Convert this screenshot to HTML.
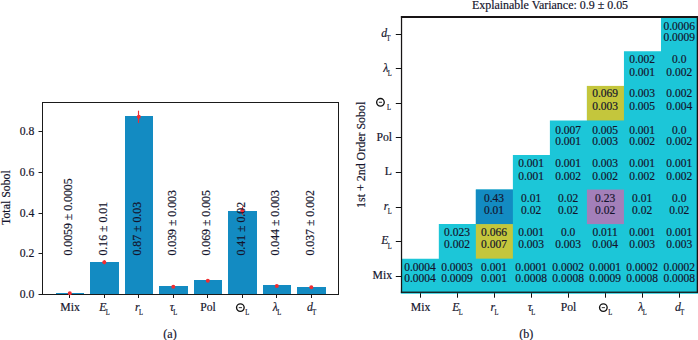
<!DOCTYPE html>
<html><head><meta charset="utf-8"><title>Sobol indices</title>
<style>html,body{margin:0;padding:0;background:#fff;}body{width:698px;height:340px;overflow:hidden;}svg{display:block;}text{font-family:"Liberation Serif",serif;fill:#14142c;stroke:#14142c;stroke-width:0.18px;}</style>
</head><body>
<svg width="698" height="340" viewBox="0 0 698 340">
<rect x="0" y="0" width="698" height="340" fill="#ffffff"/>
<g id="bars">
<rect x="56" y="293" width="28" height="1.5" fill="#138bc2"/>
<rect x="90" y="262" width="29" height="32.5" fill="#138bc2"/>
<rect x="125" y="116" width="28" height="178.5" fill="#138bc2"/>
<rect x="159" y="286" width="29" height="8.5" fill="#138bc2"/>
<rect x="194" y="280" width="28" height="14.5" fill="#138bc2"/>
<rect x="228" y="211" width="29" height="83.5" fill="#138bc2"/>
<rect x="263" y="285" width="28" height="9.5" fill="#138bc2"/>
<rect x="297" y="287" width="29" height="7.5" fill="#138bc2"/>
</g>
<rect x="42.50" y="102.50" width="296.00" height="192.00" fill="none" stroke="#1a1a1a" stroke-width="1"/>
<line x1="38.50" y1="294.50" x2="42.50" y2="294.50" stroke="#1a1a1a" stroke-width="1"/>
<text x="34.3" y="298.20" font-size="11.70" text-anchor="end">0.0</text>
<line x1="38.50" y1="253.50" x2="42.50" y2="253.50" stroke="#1a1a1a" stroke-width="1"/>
<text x="34.3" y="257.20" font-size="11.70" text-anchor="end">0.2</text>
<line x1="38.50" y1="213.50" x2="42.50" y2="213.50" stroke="#1a1a1a" stroke-width="1"/>
<text x="34.3" y="217.20" font-size="11.70" text-anchor="end">0.4</text>
<line x1="38.50" y1="172.50" x2="42.50" y2="172.50" stroke="#1a1a1a" stroke-width="1"/>
<text x="34.3" y="176.20" font-size="11.70" text-anchor="end">0.6</text>
<line x1="38.50" y1="131.50" x2="42.50" y2="131.50" stroke="#1a1a1a" stroke-width="1"/>
<text x="34.3" y="135.20" font-size="11.70" text-anchor="end">0.8</text>
<line x1="69.50" y1="294.50" x2="69.50" y2="298.00" stroke="#1a1a1a" stroke-width="1"/>
<line x1="104.50" y1="294.50" x2="104.50" y2="298.00" stroke="#1a1a1a" stroke-width="1"/>
<line x1="138.50" y1="294.50" x2="138.50" y2="298.00" stroke="#1a1a1a" stroke-width="1"/>
<line x1="173.50" y1="294.50" x2="173.50" y2="298.00" stroke="#1a1a1a" stroke-width="1"/>
<line x1="207.50" y1="294.50" x2="207.50" y2="298.00" stroke="#1a1a1a" stroke-width="1"/>
<line x1="242.50" y1="294.50" x2="242.50" y2="298.00" stroke="#1a1a1a" stroke-width="1"/>
<line x1="276.50" y1="294.50" x2="276.50" y2="298.00" stroke="#1a1a1a" stroke-width="1"/>
<line x1="311.50" y1="294.50" x2="311.50" y2="298.00" stroke="#1a1a1a" stroke-width="1"/>
<line x1="69.50" y1="293.10" x2="69.50" y2="293.30" stroke="#ef2e32" stroke-width="1.15"/>
<circle cx="69.80" cy="293.20" r="2.0" fill="#ef2e32"/>
<line x1="104.50" y1="260.26" x2="104.50" y2="264.34" stroke="#ef2e32" stroke-width="1.15"/>
<circle cx="104.30" cy="262.30" r="2.0" fill="#ef2e32"/>
<line x1="138.50" y1="110.69" x2="138.50" y2="122.91" stroke="#ef2e32" stroke-width="1.15"/>
<circle cx="138.80" cy="116.80" r="2.0" fill="#ef2e32"/>
<line x1="173.50" y1="286.24" x2="173.50" y2="287.46" stroke="#ef2e32" stroke-width="1.15"/>
<circle cx="173.30" cy="286.85" r="2.0" fill="#ef2e32"/>
<line x1="207.50" y1="279.78" x2="207.50" y2="281.82" stroke="#ef2e32" stroke-width="1.15"/>
<circle cx="207.80" cy="280.80" r="2.0" fill="#ef2e32"/>
<line x1="242.50" y1="206.63" x2="242.50" y2="214.77" stroke="#ef2e32" stroke-width="1.15"/>
<circle cx="242.30" cy="210.70" r="2.0" fill="#ef2e32"/>
<line x1="276.50" y1="285.29" x2="276.50" y2="286.51" stroke="#ef2e32" stroke-width="1.15"/>
<circle cx="276.80" cy="285.90" r="2.0" fill="#ef2e32"/>
<line x1="311.50" y1="286.74" x2="311.50" y2="287.56" stroke="#ef2e32" stroke-width="1.15"/>
<circle cx="311.30" cy="287.15" r="2.0" fill="#ef2e32"/>
<text transform="translate(72.40,255.60) rotate(-90)" font-size="11.80">0.0059 ± 0.0005</text>
<text transform="translate(106.90,255.60) rotate(-90)" font-size="11.80">0.16 ± 0.01</text>
<text transform="translate(141.40,255.60) rotate(-90)" font-size="11.80">0.87 ± 0.03</text>
<text transform="translate(175.90,255.60) rotate(-90)" font-size="11.80">0.039 ± 0.003</text>
<text transform="translate(210.40,255.60) rotate(-90)" font-size="11.80">0.069 ± 0.005</text>
<text transform="translate(244.90,255.60) rotate(-90)" font-size="11.80">0.41 ± 0.02</text>
<text transform="translate(279.40,255.60) rotate(-90)" font-size="11.80">0.044 ± 0.003</text>
<text transform="translate(313.90,255.60) rotate(-90)" font-size="11.80">0.037 ± 0.002</text>
<text x="70.00" y="310.8" font-size="11.70" text-anchor="middle">Mix</text>
<text x="99.26" y="310.80" font-size="11.70" font-style="italic">E</text><text transform="translate(105.81,315.10) scale(0.92,1.06)" font-size="7.00">L</text>
<text x="135.06" y="310.80" font-size="11.70" font-style="italic">r</text><text transform="translate(139.01,315.10) scale(0.92,1.06)" font-size="7.00">L</text>
<text x="169.74" y="310.80" font-size="11.70" font-style="italic">τ</text><text transform="translate(173.33,315.10) scale(0.92,1.06)" font-size="7.00">L</text>
<text x="208.00" y="310.8" font-size="11.70" text-anchor="middle">Pol</text>
<circle cx="240.35" cy="307.60" r="3.8" fill="none" stroke="#111" stroke-width="1.35"/><line x1="238.75" y1="307.60" x2="241.95" y2="307.60" stroke="#444" stroke-width="1.1"/><text transform="translate(245.20,314.90) scale(0.92,1.06)" font-size="7.00">L</text>
<text x="272.80" y="310.80" font-size="11.70" font-style="italic">λ</text><text transform="translate(277.27,315.10) scale(0.92,1.06)" font-size="7.00">L</text>
<text x="306.91" y="310.80" font-size="11.70" font-style="italic">d</text><text transform="translate(312.16,315.10) scale(0.92,1.06)" font-size="7.00">T</text>
<text transform="translate(10.1,197.6) rotate(-90)" font-size="11.85" text-anchor="middle">Total Sobol</text>
<text x="170" y="337.9" font-size="12.00" text-anchor="middle">(a)</text>
<g id="heat">
<polygon fill="#1cc6d8" points="698.00,16.80 660.98,16.80 660.98,51.35 623.95,51.35 623.95,85.90 586.92,85.90 586.92,120.45 549.90,120.45 549.90,155.00 512.88,155.00 512.88,189.55 475.85,189.55 475.85,224.10 438.82,224.10 438.82,258.65 401.80,258.65 400.80,293.70 698.00,293.70"/>
<rect x="586.92" y="85.90" width="37.02" height="34.55" fill="#c4c63c"/>
<rect x="475.85" y="189.55" width="37.02" height="34.55" fill="#138bc2"/>
<rect x="586.92" y="189.55" width="37.02" height="34.55" fill="#a37fb9"/>
<rect x="475.85" y="224.10" width="37.02" height="34.55" fill="#c4c63c"/>
</g>
<rect x="400.9" y="16" width="297.1" height="2" fill="#181415"/>
<rect x="400.9" y="16" width="1.25" height="276.9" fill="#181415"/>
<rect x="400.9" y="291.6" width="297.1" height="1.3" fill="#181415"/>
<rect x="696.7" y="16" width="1.3" height="276.9" fill="#181415"/>
<g id="celltext" font-size="11.50" text-anchor="middle">
<text x="679.19" y="30.00">0.0006</text><text x="679.19" y="40.60">0.0009</text>
<text x="642.16" y="62.90">0.002</text><text x="642.16" y="75.90">0.001</text>
<text x="679.19" y="62.90">0.0</text><text x="679.19" y="75.90">0.002</text>
<text x="605.14" y="96.80">0.069</text><text x="605.14" y="109.70">0.003</text>
<text x="642.16" y="96.80">0.003</text><text x="642.16" y="109.70">0.005</text>
<text x="679.19" y="96.80">0.002</text><text x="679.19" y="109.70">0.004</text>
<text x="568.11" y="133.70">0.007</text><text x="568.11" y="144.80">0.001</text>
<text x="605.14" y="133.70">0.005</text><text x="605.14" y="144.80">0.003</text>
<text x="642.16" y="133.70">0.001</text><text x="642.16" y="144.80">0.002</text>
<text x="679.19" y="133.70">0.0</text><text x="679.19" y="144.80">0.002</text>
<text x="531.09" y="166.50">0.001</text><text x="531.09" y="179.60">0.001</text>
<text x="568.11" y="166.50">0.001</text><text x="568.11" y="179.60">0.002</text>
<text x="605.14" y="166.50">0.003</text><text x="605.14" y="179.60">0.002</text>
<text x="642.16" y="166.50">0.001</text><text x="642.16" y="179.60">0.002</text>
<text x="679.19" y="166.50">0.001</text><text x="679.19" y="179.60">0.002</text>
<text x="494.06" y="201.80">0.43</text><text x="494.06" y="214.00">0.01</text>
<text x="531.09" y="201.80">0.01</text><text x="531.09" y="214.00">0.02</text>
<text x="568.11" y="201.80">0.02</text><text x="568.11" y="214.00">0.02</text>
<text x="605.14" y="201.80">0.23</text><text x="605.14" y="214.00">0.02</text>
<text x="642.16" y="201.80">0.01</text><text x="642.16" y="214.00">0.02</text>
<text x="679.19" y="201.80">0.0</text><text x="679.19" y="214.00">0.02</text>
<text x="457.04" y="235.70">0.023</text><text x="457.04" y="247.50">0.002</text>
<text x="494.06" y="235.70">0.066</text><text x="494.06" y="247.50">0.007</text>
<text x="531.09" y="235.70">0.001</text><text x="531.09" y="247.50">0.003</text>
<text x="568.11" y="235.70">0.0</text><text x="568.11" y="247.50">0.003</text>
<text x="605.14" y="235.70">0.011</text><text x="605.14" y="247.50">0.004</text>
<text x="642.16" y="235.70">0.001</text><text x="642.16" y="247.50">0.003</text>
<text x="679.19" y="235.70">0.001</text><text x="679.19" y="247.50">0.003</text>
<text x="420.01" y="270.80">0.0004</text><text x="420.01" y="281.60">0.0004</text>
<text x="457.04" y="270.80">0.0003</text><text x="457.04" y="281.60">0.0009</text>
<text x="494.06" y="270.80">0.001</text><text x="494.06" y="281.60">0.001</text>
<text x="531.09" y="270.80">0.0001</text><text x="531.09" y="281.60">0.0008</text>
<text x="568.11" y="270.80">0.0002</text><text x="568.11" y="281.60">0.0008</text>
<text x="605.14" y="270.80">0.0001</text><text x="605.14" y="281.60">0.0009</text>
<text x="642.16" y="270.80">0.0002</text><text x="642.16" y="281.60">0.0008</text>
<text x="679.19" y="270.80">0.0002</text><text x="679.19" y="281.60">0.0008</text>
</g>
<line x1="420.50" y1="293.20" x2="420.50" y2="297.70" stroke="#111" stroke-width="1"/>
<line x1="395.80" y1="34.50" x2="401.80" y2="34.50" stroke="#111" stroke-width="1"/>
<line x1="457.50" y1="293.20" x2="457.50" y2="297.70" stroke="#111" stroke-width="1"/>
<line x1="395.80" y1="68.50" x2="401.80" y2="68.50" stroke="#111" stroke-width="1"/>
<line x1="494.50" y1="293.20" x2="494.50" y2="297.70" stroke="#111" stroke-width="1"/>
<line x1="395.80" y1="103.50" x2="401.80" y2="103.50" stroke="#111" stroke-width="1"/>
<line x1="531.50" y1="293.20" x2="531.50" y2="297.70" stroke="#111" stroke-width="1"/>
<line x1="395.80" y1="137.50" x2="401.80" y2="137.50" stroke="#111" stroke-width="1"/>
<line x1="568.50" y1="293.20" x2="568.50" y2="297.70" stroke="#111" stroke-width="1"/>
<line x1="395.80" y1="172.50" x2="401.80" y2="172.50" stroke="#111" stroke-width="1"/>
<line x1="605.50" y1="293.20" x2="605.50" y2="297.70" stroke="#111" stroke-width="1"/>
<line x1="395.80" y1="207.50" x2="401.80" y2="207.50" stroke="#111" stroke-width="1"/>
<line x1="642.50" y1="293.20" x2="642.50" y2="297.70" stroke="#111" stroke-width="1"/>
<line x1="395.80" y1="241.50" x2="401.80" y2="241.50" stroke="#111" stroke-width="1"/>
<line x1="679.50" y1="293.20" x2="679.50" y2="297.70" stroke="#111" stroke-width="1"/>
<line x1="395.80" y1="276.50" x2="401.80" y2="276.50" stroke="#111" stroke-width="1"/>
<text x="420.50" y="310.8" font-size="11.70" text-anchor="middle">Mix</text>
<text x="452.26" y="310.80" font-size="11.70" font-style="italic">E</text><text transform="translate(458.81,315.10) scale(0.92,1.06)" font-size="7.00">L</text>
<text x="490.56" y="310.80" font-size="11.70" font-style="italic">r</text><text transform="translate(494.51,315.10) scale(0.92,1.06)" font-size="7.00">L</text>
<text x="527.74" y="310.80" font-size="11.70" font-style="italic">τ</text><text transform="translate(531.33,315.10) scale(0.92,1.06)" font-size="7.00">L</text>
<text x="568.50" y="310.8" font-size="11.70" text-anchor="middle">Pol</text>
<circle cx="603.35" cy="307.60" r="3.8" fill="none" stroke="#111" stroke-width="1.35"/><line x1="601.75" y1="307.60" x2="604.95" y2="307.60" stroke="#444" stroke-width="1.1"/><text transform="translate(608.20,314.90) scale(0.92,1.06)" font-size="7.00">L</text>
<text x="638.30" y="310.80" font-size="11.70" font-style="italic">λ</text><text transform="translate(642.77,315.10) scale(0.92,1.06)" font-size="7.00">L</text>
<text x="674.91" y="310.80" font-size="11.70" font-style="italic">d</text><text transform="translate(680.16,315.10) scale(0.92,1.06)" font-size="7.00">T</text>
<text x="381.32" y="37.08" font-size="11.70" font-style="italic">d</text><text transform="translate(386.57,41.38) scale(0.92,1.06)" font-size="7.00">T</text>
<text x="383.30" y="71.62" font-size="11.70" font-style="italic">λ</text><text transform="translate(387.77,75.92) scale(0.92,1.06)" font-size="7.00">L</text>
<circle cx="380.45" cy="102.30" r="3.8" fill="none" stroke="#111" stroke-width="1.35"/><line x1="378.85" y1="102.30" x2="382.05" y2="102.30" stroke="#444" stroke-width="1.1"/><text transform="translate(386.90,110.30) scale(0.92,1.06)" font-size="7.00">L</text>
<text x="392.0" y="140.72" font-size="11.70" text-anchor="end">Pol</text>
<text x="392.0" y="175.28" font-size="11.70" text-anchor="end">L</text>
<text x="383.81" y="209.82" font-size="11.70" font-style="italic">r</text><text transform="translate(387.77,214.12) scale(0.92,1.06)" font-size="7.00">L</text>
<text x="381.22" y="244.38" font-size="11.70" font-style="italic">E</text><text transform="translate(387.77,248.68) scale(0.92,1.06)" font-size="7.00">L</text>
<text x="392.0" y="278.93" font-size="11.70" text-anchor="end">Mix</text>
<text transform="translate(364.6,154.8) rotate(-90)" font-size="11.95" text-anchor="middle">1st + 2nd Order Sobol</text>
<text x="550" y="8.6" font-size="11.95" text-anchor="middle">Explainable Variance: 0.9 ± 0.05</text>
<text x="526.3" y="337.9" font-size="12.00" text-anchor="middle">(b)</text>
</svg></body></html>
